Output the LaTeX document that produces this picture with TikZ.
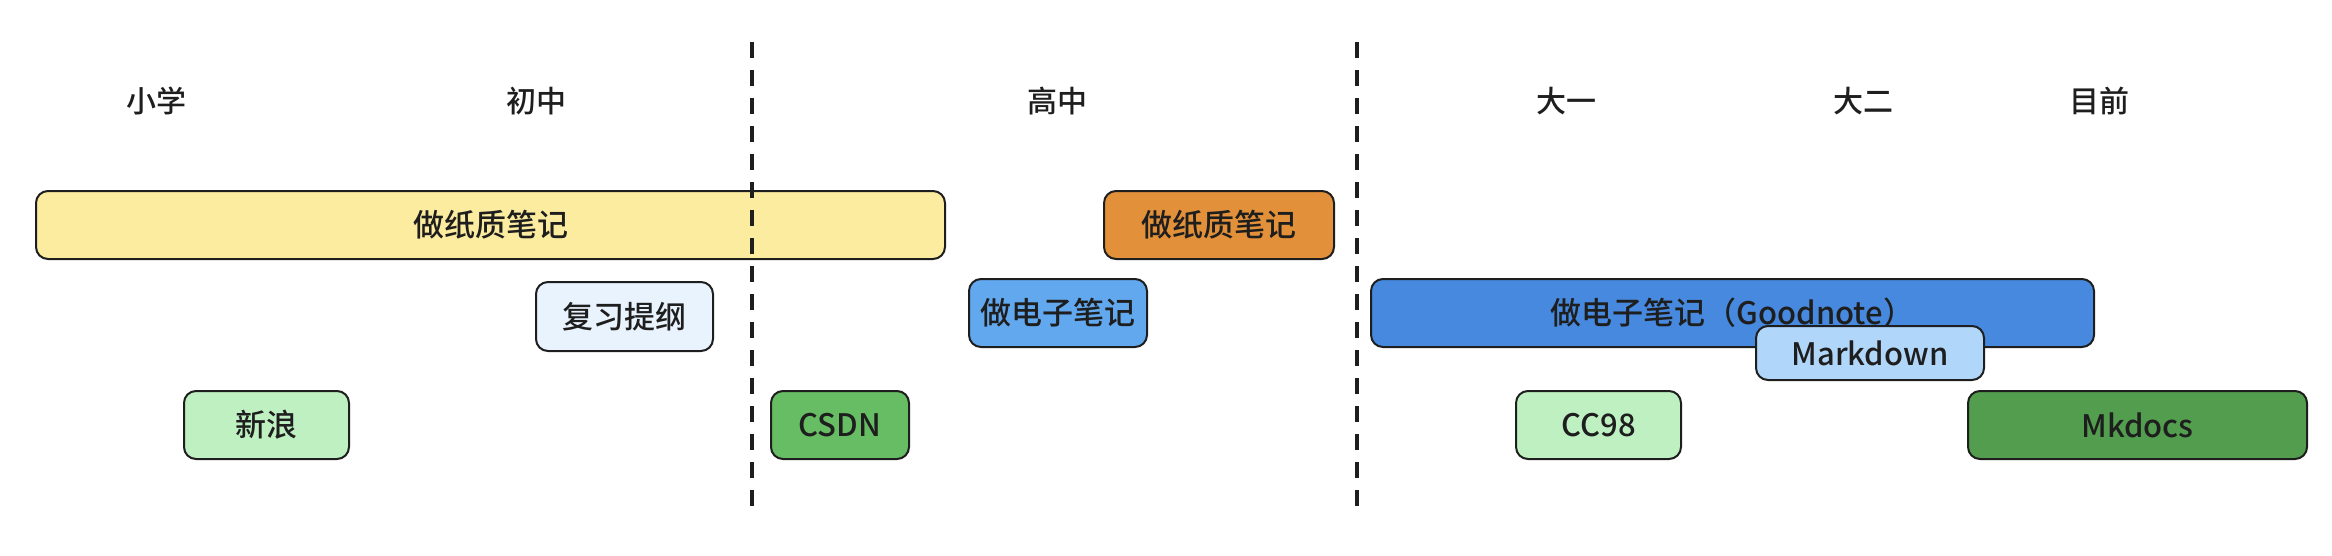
\documentclass[tikz,border=0pt]{standalone}
\usepackage{fontspec}
\setmainfont{Noto Sans CJK SC}[UprightFont=* Medium]
\definecolor{paperY}{HTML}{FCEC9F}
\definecolor{paperO}{HTML}{E2913A}
\definecolor{outline}{HTML}{E8F3FE}
\definecolor{elecM}{HTML}{62A8EE}
\definecolor{elecB}{HTML}{4689DE}
\definecolor{mdblue}{HTML}{B0D6FA}
\definecolor{greenL}{HTML}{BFF0C2}
\definecolor{greenM}{HTML}{66BD63}
\definecolor{greenD}{HTML}{529E4E}
\definecolor{ink}{HTML}{1E1E1E}
\tikzset{
  bar/.style={draw=ink, line width=1pt, rounded corners=6pt, inner sep=0pt,
    minimum height=34pt, text=ink, font=\fontsize{15.5pt}{18pt}\selectfont},
  stage/.style={text=ink, font=\fontsize{15pt}{18pt}\selectfont},
  divider/.style={draw=ink, line width=1.6pt, dash pattern=on 8pt off 6pt}
}
\begin{document}
\begin{tikzpicture}[x=0.5pt,y=-0.5pt]
        \useasboundingbox (0,0) rectangle (2332,556);

        % stages
        \node[stage] (xiaoxue) at (156,101) {小学};
        \node[stage] (chuzhong) at (536,101) {初中};
        \node[stage] (gaozhong) at (1057,101) {高中};
        \node[stage] (dayi) at (1566,101) {大一};
        \node[stage] (daer) at (1863,101) {大二};
        \node[stage] (muqian) at (2099,101) {目前};

        % notes
        \node[bar, fill=paperY, minimum width=454.5pt] (paper) at (490.5,225) {做纸质笔记};
        \node[bar, fill=paperO, minimum width=115pt] (paperhs) at (1219,225) {做纸质笔记};
        \node[bar, fill=outline, minimum width=88.5pt, minimum height=34.5pt] (outline) at (624.5,316.5) {复习提纲};
        \node[bar, fill=elecM, minimum width=89pt] (elec) at (1058,313) {做电子笔记};
        \node[bar, fill=elecB, minimum width=361.5pt] (goodnote) at (1732.5,313) {做电子笔记（Goodnote）};
        \node[bar, fill=mdblue, minimum width=114pt, minimum height=27pt] (markdown) at (1870,353) {Markdown};

        % blogs
        \node[bar, fill=greenL, minimum width=82.5pt] (sina) at (266.5,425) {新浪};
        \node[bar, fill=greenM, minimum width=69pt] (csdn) at (840,425) {CSDN};
        \node[bar, fill=greenL, minimum width=82.5pt] (cc) at (1598.5,425) {CC98};
        \node[bar, fill=greenD, minimum width=169.5pt] (mkdocs) at (2137.5,425) {Mkdocs};

        % dividers
        \coordinate (d1t) at (752,42);
        \coordinate (d1b) at (752,509);
        \coordinate (d2t) at (1357,42);
        \coordinate (d2b) at (1357,509);
        \draw[divider] (d1t) -- (d1b);
        \draw[divider] (d2t) -- (d2b);
    \end{tikzpicture}
\end{document}
